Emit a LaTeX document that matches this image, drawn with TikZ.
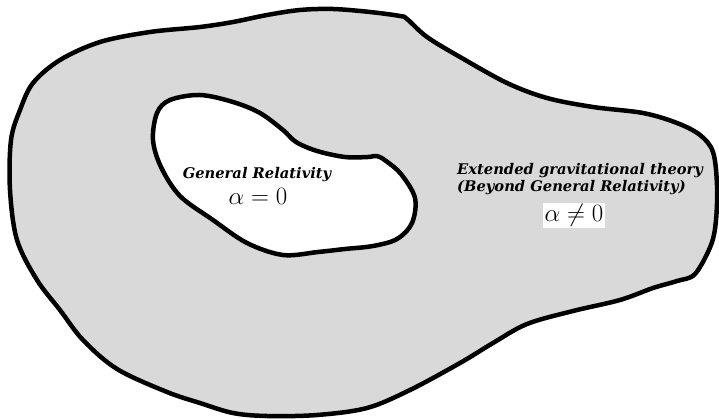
\documentclass[tikz,border=0pt]{standalone}
\usepackage{fontspec}
\newfontfamily\labelfont{DejaVu Serif}
\usetikzlibrary{positioning}
\definecolor{regiongray}{RGB}{217,217,217}

\begin{document}
\begin{tikzpicture}[
  x=1pt, y=-1pt,
  outline/.style={line width=4.5pt, line join=round, draw=black},
  theory/.style={font=\labelfont\bfseries\itshape\fontsize{14.7}{17}\selectfont,
                 inner sep=0pt},
  value/.style={font=\fontsize{23}{25}\selectfont, inner sep=1.5pt}
]
\useasboundingbox (0,0) rectangle (719,419);

% outer region: beyond general relativity
\draw[outline, fill=regiongray] plot[smooth cycle, tension=0.55] coordinates {
  (400,16) (407,19) (427,37) (460,57) (507,83) (547,98) (593,107) (643,113)
  (677,123) (700,135) (713,152) (717,185) (716,220) (711,245) (695,274)
  (677,281) (653,288) (620,300) (573,311) (527,324) (493,343) (460,363)
  (410,390) (367,408) (317,415) (267,416) (233,413) (200,403) (167,392)
  (117,369) (83,340) (60,310) (37,280) (17,240) (10,190) (11,140) (20,110)
  (33,83) (60,60) (100,42) (150,32) (200,27) (233,22) (267,15) (300,10)
  (333,9) (370,12)};

% inner region: general relativity
\draw[outline, fill=white] plot[smooth cycle, tension=0.55] coordinates {
  (157,113) (170,100) (200,95) (233,102) (260,113) (283,130) (296,142)
  (317,151) (345,157) (368,157) (377,156) (386,161) (401,174) (415,198)
  (412,223) (397,239) (373,246) (345,249) (318,252) (283,255) (247,243)
  (213,220) (180,196) (161,167) (153,140)};

\node[theory, anchor=base] (gr) at (257,179) {General Relativity};
\node[value, anchor=base] (grval) at (258,205) {$\alpha=0$};

\node[theory, anchor=base west, align=left] (ext) at (457,192)
      {Extended gravitational theory\\(Beyond General Relativity)};
\node[value, fill=white, anchor=base] (extval) at (574,222) {$\alpha\neq0$};
\end{tikzpicture}
\end{document}
